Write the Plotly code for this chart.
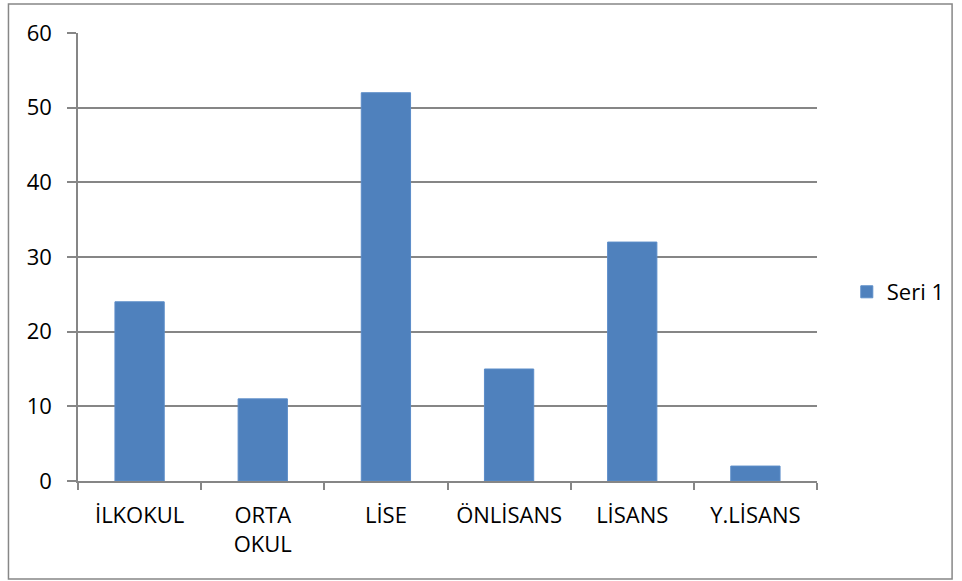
import plotly.graph_objects as go

categories = ["İLKOKUL", "ORTA<br>OKUL", "LİSE", "ÖNLİSANS", "LİSANS", "Y.LİSANS"]
values = [24, 11, 52, 15, 32, 2]
series_name = "Seri 1"
y_ticks = [0, 10, 20, 30, 40, 50, 60]

W, H = 962, 581
L, R, T, B = 78, 822, 33, 481
pw, ph = R - L, B - T

fig = go.Figure()
fig.add_trace(go.Bar(
    x=categories, y=values, name=series_name,
    marker=dict(color="#4F81BD", line=dict(color="#5B8CC8", width=1)),
    showlegend=True,
))

def px_x(x):
    return (x - L) / pw

def px_y(y):
    return (B - y) / ph

fig.add_shape(type="rect", xref="paper", yref="paper",
              x0=px_x(8), x1=px_x(958), y0=px_y(579), y1=px_y(4),
              line=dict(color="#878787", width=1.5), fillcolor="rgba(0,0,0,0)", layer="below")

font_family = "Open Sans, Noto Sans, sans-serif"
fig.update_layout(
    width=W, height=H,
    margin=dict(l=L, r=W - R, t=T, b=H - B, pad=0),
    paper_bgcolor="white", plot_bgcolor="white",
    bargap=0.6,
    font=dict(family=font_family, size=22, color="black"),
    legend=dict(x=px_x(852), y=px_y(292), xanchor="left", yanchor="middle",
                font=dict(size=22), bgcolor="rgba(0,0,0,0)",
                itemwidth=30),
    xaxis=dict(
        type="category", tickson="boundaries", ticks="outside", ticklen=7,
        tickcolor="#868686", tickwidth=1.5,
        showline=True, linecolor="#868686", linewidth=1.5,
        showgrid=False, tickangle=0, ticklabelstandoff=14,
        tickfont=dict(size=22),
    ),
    yaxis=dict(
        range=[0, 60], tickvals=y_ticks, ticks="outside", ticklen=9,
        tickcolor="#868686", tickwidth=1.5,
        showline=True, linecolor="#868686", linewidth=1.5,
        showgrid=True, gridcolor="#868686", gridwidth=1.5,
        zeroline=False, ticklabelstandoff=11,
        tickfont=dict(size=22),
    ),
)

fig.write_html("out.html", config={"displayModeBar": False},
               post_script="document.body.style.margin='0';document.body.style.overflow='hidden';")
